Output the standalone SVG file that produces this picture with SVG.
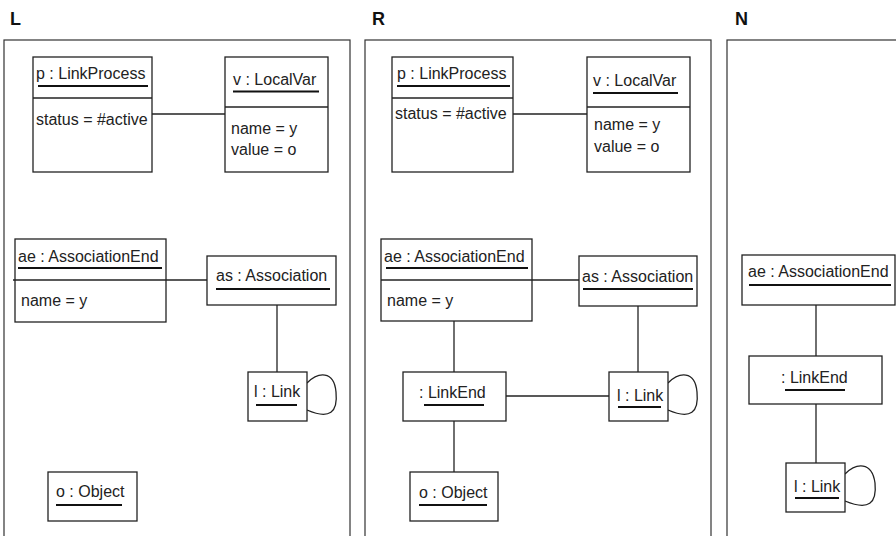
<svg xmlns="http://www.w3.org/2000/svg" width="896" height="536" viewBox="0 0 896 536">
<style>
.frame{fill:none;stroke:#333;stroke-width:1.2}
.box{fill:#fff;stroke:#222;stroke-width:1.3}
.div{stroke:#222;stroke-width:1.3}
.ul{stroke:#111;stroke-width:2}
.ln{fill:none;stroke:#222;stroke-width:1.3}
text{font-family:"Liberation Sans",Arial,sans-serif;font-size:16px;fill:#222}
.lbl{font-size:18px;font-weight:bold;fill:#111}
</style>
<rect width="896" height="536" fill="#fff"/>
<g id="labels">
<text class="lbl" x="10" y="25">L</text>
<text class="lbl" x="372" y="25">R</text>
<text class="lbl" x="735" y="25">N</text>
</g>
<g id="frames">
<rect class="frame" x="4" y="40" width="346" height="510"/>
<rect class="frame" x="365" y="40" width="346" height="510"/>
<rect class="frame" x="727" y="40" width="200" height="510"/>
</g>
<g id="connectors">
<line class="ln" x1="152" y1="114" x2="225" y2="114"/>
<line class="ln" x1="166" y1="280" x2="207" y2="280"/>
<line class="ln" x1="277" y1="305" x2="277" y2="372"/>
<path class="ln" d="M307,383 C318,372 334,370 336,392 C338,412 330,420 307,410"/>
<line class="ln" x1="513" y1="114" x2="587" y2="114"/>
<line class="ln" x1="532" y1="280" x2="579" y2="280"/>
<line class="ln" x1="638" y1="306" x2="638" y2="372"/>
<line class="ln" x1="454" y1="321" x2="454" y2="372"/>
<line class="ln" x1="506" y1="396" x2="609" y2="396"/>
<line class="ln" x1="454" y1="421" x2="454" y2="472"/>
<path class="ln" d="M668,383 C679,372 695,370 697,392 C699,412 691,420 668,410"/>
<line class="ln" x1="816" y1="305" x2="816" y2="356"/>
<line class="ln" x1="816" y1="404" x2="816" y2="463"/>
<path class="ln" d="M845,474 C856,463 872,461 875,483 C877,503 869,511 845,501"/>
</g>
<g id="L-p">
<rect class="box" x="33" y="57" width="119" height="115"/>
<line class="div" x1="33" y1="98" x2="152" y2="98"/>
<text x="36" y="79">p : LinkProcess</text>
<line class="ul" x1="38" y1="86" x2="148" y2="86"/>
<text x="36" y="125">status = #active</text>
</g>
<g id="L-v">
<rect class="box" x="225" y="57" width="103" height="115"/>
<line class="div" x1="225" y1="107" x2="328" y2="107"/>
<text x="233" y="85">v : LocalVar</text>
<line class="ul" x1="233" y1="91.5" x2="319" y2="91.5"/>
<text x="231" y="134">name = y</text>
<text x="231" y="155">value = o</text>
</g>
<g id="L-ae">
<rect class="box" x="15" y="239" width="151" height="83"/>
<line class="div" x1="13" y1="280" x2="166" y2="280"/>
<text x="18" y="262">ae : AssociationEnd</text>
<line class="ul" x1="18" y1="268" x2="162" y2="268"/>
<text x="21" y="306">name = y</text>
</g>
<g id="L-as">
<rect class="box" x="207" y="256" width="129" height="49"/>
<text x="216" y="281">as : Association</text>
<line class="ul" x1="216" y1="289" x2="330" y2="289"/>
</g>
<g id="L-l">
<rect class="box" x="248" y="372" width="59" height="49"/>
<text x="254" y="397">l : Link</text>
<line class="ul" x1="256" y1="405" x2="297" y2="405"/>
</g>
<g id="L-o">
<rect class="box" x="48" y="472" width="89" height="49"/>
<text x="56" y="497">o : Object</text>
<line class="ul" x1="56" y1="505" x2="122" y2="505"/>
</g>
<g id="R-p">
<rect class="box" x="392" y="57" width="121" height="115"/>
<line class="div" x1="392" y1="98" x2="513" y2="98"/>
<text x="397" y="79">p : LinkProcess</text>
<line class="ul" x1="397" y1="86" x2="510" y2="86"/>
<text x="395" y="119">status = #active</text>
</g>
<g id="R-v">
<rect class="box" x="587" y="57" width="103" height="115"/>
<line class="div" x1="587" y1="107" x2="690" y2="107"/>
<text x="593" y="86">v : LocalVar</text>
<line class="ul" x1="593" y1="93" x2="678" y2="93"/>
<text x="594" y="130">name = y</text>
<text x="594" y="152">value = o</text>
</g>
<g id="R-ae">
<rect class="box" x="381" y="239" width="151" height="82"/>
<line class="div" x1="381" y1="280" x2="532" y2="280"/>
<text x="384" y="262">ae : AssociationEnd</text>
<line class="ul" x1="386" y1="268" x2="528" y2="268"/>
<text x="387" y="306">name = y</text>
</g>
<g id="R-as">
<rect class="box" x="579" y="256" width="118" height="50"/>
<text x="582" y="282">as : Association</text>
<line class="ul" x1="583" y1="289" x2="693" y2="289"/>
</g>
<g id="R-l">
<rect class="box" x="609" y="372" width="59" height="49"/>
<text x="617" y="401">l : Link</text>
<line class="ul" x1="618" y1="407" x2="661" y2="407"/>
</g>
<g id="R-le">
<rect class="box" x="403" y="372" width="103" height="49"/>
<text x="419" y="398">: LinkEnd</text>
<line class="ul" x1="424" y1="405" x2="484" y2="405"/>
</g>
<g id="R-o">
<rect class="box" x="410" y="472" width="88" height="49"/>
<text x="419" y="498">o : Object</text>
<line class="ul" x1="419" y1="505" x2="487" y2="505"/>
</g>
<g id="N-ae">
<rect class="box" x="742" y="255" width="153" height="50"/>
<text x="748" y="277">ae : AssociationEnd</text>
<line class="ul" x1="749" y1="285" x2="891" y2="285"/>
</g>
<g id="N-le">
<rect class="box" x="749" y="356" width="133" height="48"/>
<text x="781" y="383">: LinkEnd</text>
<line class="ul" x1="785" y1="390" x2="845" y2="390"/>
</g>
<g id="N-l">
<rect class="box" x="786" y="463" width="59" height="49"/>
<text x="794" y="492">l : Link</text>
<line class="ul" x1="795" y1="498" x2="839" y2="498"/>
</g>
</svg>
